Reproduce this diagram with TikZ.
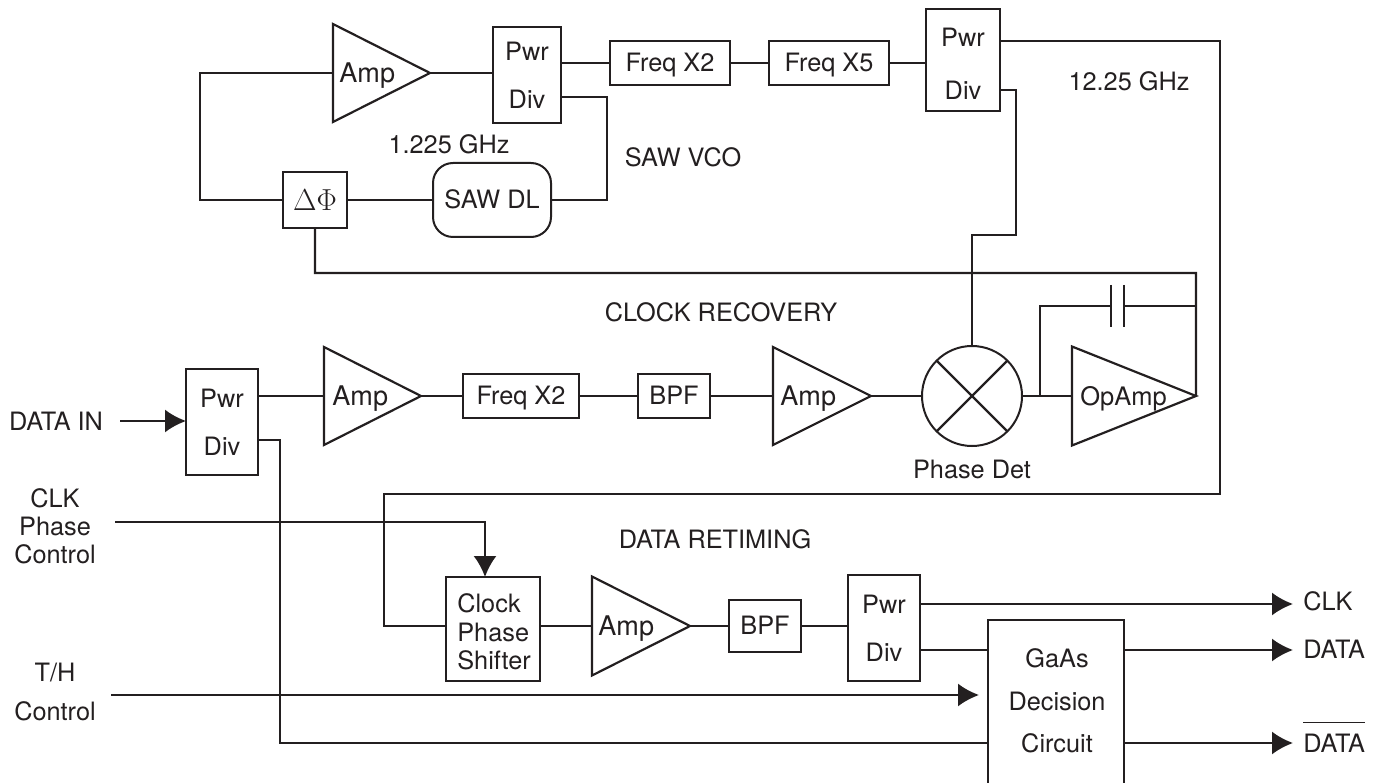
\documentclass[tikz,border=0pt]{standalone}
\usepackage{fontspec}
\setmainfont{TeX Gyre Heros}
\usetikzlibrary{shapes.geometric,arrows.meta}

\def\px{0.02cm}
\definecolor{inkc}{HTML}{231F20}

\tikzset{
  wire/.style={draw=inkc,line width=1.25pt},
  arrowwire/.style={wire,-{Latex[length=0.42cm,width=0.46cm]}},
  blockbox/.style={draw=inkc,line width=0.04cm,rectangle,inner sep=0,outer sep=0,text=inkc,align=center,font=\fontsize{14.4}{16}\selectfont},
  onelinebox/.style={blockbox,text height=10pt,text depth=0pt},
  pwrbox/.style={blockbox,minimum width=72*\px,font=\fontsize{14.4}{27.2}\selectfont},
  amptri/.style={draw=inkc,line width=1.25pt,isosceles triangle,isosceles triangle stretches,inner sep=0,outer sep=0,anchor=west},
  lbl/.style={text=inkc,inner sep=0,align=center,font=\fontsize{14.4}{16}\selectfont}
}

\begin{document}
\begin{tikzpicture}[x=0.02cm,y=-0.02cm]
  \useasboundingbox (0,0) rectangle (1378,783);

  % amplifiers
  \foreach \nm/\x/\y/\w/\h/\dx/\fs/\txt in {ampA/333/73/97/98/6/15.4/Amp,ampB/324/396/97/98/8/15.4/Amp,ampC/773/396/98/98/7/15.4/Amp,ampD/592/626/98/99/6/15.4/Amp,opamp/1072/396/124/99/8/14.5/OpAmp} {
    \node[amptri,minimum height=\w*\px,minimum width=\h*\px,
      label={[lbl,anchor=west,xshift=\dx*\px,yshift=-2.5*\px,font=\fontsize{\fs}{16}\selectfont]west:\txt}] (\nm) at (\x,\y) {};
  }

  % plain blocks
  \foreach \nm/\x/\y/\w/\h/\txt in {frqA/670/63/120/44/Freq X2,frqB/829/63/120/44/Freq X5,frqC/521/396/116/44/Freq X2,bpfA/674/396/72/44/BPF,bpfB/765/626/72/52/BPF} {
    \node[onelinebox,minimum width=\w*\px,minimum height=\h*\px] (\nm) at (\x,\y) {\txt};
  }

  % power dividers
  \node[pwrbox,minimum width=68*\px,minimum height=96*\px] (pdivA) at (527,75) {Pwr\\Div};
  \node[pwrbox,minimum width=74*\px,minimum height=102*\px] (pdivB) at (963,60) {\rule{0pt}{15pt}Pwr\\[3pt]Div};
  \node[pwrbox,minimum height=106*\px] (pdivC) at (222,422) {Pwr\\Div};
  \node[pwrbox,minimum height=106*\px] (pdivD) at (884,628) {Pwr\\Div};

  \node[onelinebox,minimum width=64*\px,minimum height=56*\px,text height=12pt,font=\fontsize{16}{18}\selectfont] (phase) at (315,200) {$\Delta\Phi$};
  \node[onelinebox,rounded corners=0.4cm,minimum width=118*\px,minimum height=74*\px] (saw) at (492,200) {SAW DL};
  \node[draw=inkc,line width=0.04cm,circle,inner sep=0,outer sep=0,minimum size=100*\px] (pdet) at (972,396) {};
  \node[blockbox,minimum width=94*\px,minimum height=104*\px] (shift) at (493,629) {};
  \node[lbl,align=left,anchor=west,font=\fontsize{14.4}{16.2}\selectfont] (shifttxt) at (457,632) {Clock\\Phase\\Shifter};
  \node[blockbox,minimum width=136*\px,minimum height=176*\px] (gaas) at (1056,708) {};
  \node[lbl,font=\fontsize{14.4}{24.2}\selectfont] (gaastxt) at (1057,701) {GaAs\\Decision\\Circuit};

  % free labels
  \node[lbl] (fA) at (449,144) {1.225 GHz};
  \node[lbl] (sawvco) at (683,157) {SAW VCO};
  \node[lbl] (fB) at (1129,81) {12.25 GHz};
  \node[lbl] (clkrec) at (721,312) {CLOCK RECOVERY};
  \node[lbl] (dataret) at (715,539) {DATA RETIMING};
  \node[lbl] (pdettxt) at (972,469) {Phase Det};
  \node[lbl] (datain) at (56,421) {DATA IN};
  \node[lbl] (clkctl) at (55,526) {CLK\\Phase\\Control};
  \node[lbl,font=\fontsize{14.4}{22}\selectfont] (thctl) at (55,692) {T/H\\Control};
  \node[lbl,anchor=west] (clkout) at (1303,601) {CLK};
  \node[lbl,anchor=west] (dataout) at (1303,649) {DATA};
  \node[lbl,anchor=base west] (nbarout) at (1303,752) {$\overline{\mbox{DATA}\rule{0pt}{15.5pt}}$};

  % top loop
  \coordinate (loopL) at (200,73);
  \coordinate (tapA) at (607,97);
  \draw[wire] (ampA.west) -- (loopL) |- (phase.west);
  \draw[wire] (ampA.east) -- (ampA.east -| pdivA.west);
  \draw[wire] (phase.east) -- (saw.west);
  \draw[wire] (saw.east) -| (tapA) -- (tapA -| pdivA.east);
  \draw[wire] (pdivA.east |- frqA) -- (frqA.west);
  \draw[wire] (frqA.east) -- (frqB.west);
  \draw[wire] (frqB.east) -- (frqB.east -| pdivB.west);

  % vco output and loop filter
  \coordinate (outR) at (1220,41);
  \coordinate (outB) at (1220,494);
  \coordinate (outL) at (384,494);
  \coordinate (outD) at (384,626);
  \draw[wire] (pdivB.east |- outR) -- (outR) -- (outB) -- (outL) -- (outD) -- (outD -| shift.west);
  \coordinate (tapB) at (1016,90);
  \coordinate (tapC) at (1016,235);
  \draw[wire] (pdivB.east |- tapB) -- (tapB) -- (tapC) -| (pdet.north);
  \coordinate (ctlR) at (1196,273);
  \draw[wire] (phase.south) |- (ctlR) -- (opamp.east);
  \draw[wire] (pdet.east) -- (opamp.west);
  \draw[wire] (pdet.45) -- (pdet.225);
  \draw[wire] (pdet.135) -- (pdet.315);

  % capacitor
  \coordinate (capL) at (1111,306);
  \coordinate (capR) at (1124,306);
  \coordinate (capN) at (1040,396);
  \draw[wire] (capN) |- (capL);
  \draw[wire] (capR) -- (capR -| ctlR);
  \draw[wire] ([yshift=21*\px]capL) -- ([yshift=-21*\px]capL);
  \draw[wire] ([yshift=21*\px]capR) -- ([yshift=-21*\px]capR);

  % clock recovery chain
  \coordinate (inL) at (120,421);
  \draw[arrowwire] (inL) -- (inL -| pdivC.west);
  \draw[wire] (pdivC.east |- ampB) -- (ampB.west);
  \draw[wire] (ampB.east) -- (frqC.west);
  \draw[wire] (frqC.east) -- (bpfA.west);
  \draw[wire] (bpfA.east) -- (ampC.west);
  \draw[wire] (ampC.east) -- (pdet.west);

  % data retiming
  \coordinate (ctlA) at (115,522);
  \coordinate (ctlB) at (485,577);
  \draw[arrowwire] (ctlA) -| (ctlB);
  \draw[wire] (shift.east |- ampD) -- (ampD.west);
  \draw[wire] (ampD.east) -- (bpfB.west);
  \draw[wire] (bpfB.east) -- (bpfB.east -| pdivD.west);
  \coordinate (clkY) at (920,604);
  \coordinate (datY) at (920,650);
  \coordinate (barY) at (280,743);
  \coordinate (tapD) at (258,440);
  \coordinate (thL) at (111,695);
  \coordinate (clkE) at (1293,604);
  \coordinate (thE) at (979,695);
  \draw[arrowwire] (clkY) -- (clkE);
  \draw[wire] (datY) -- (datY -| gaas.west);
  \draw[arrowwire] (datY -| gaas.east) -- (datY -| clkE);
  \draw[arrowwire] (barY -| gaas.east) -- (barY -| clkE);
  \draw[arrowwire] (thL) -- (thE);
  \draw[wire] (tapD) -| (barY) -- (barY -| gaas.west);
\end{tikzpicture}
\end{document}
